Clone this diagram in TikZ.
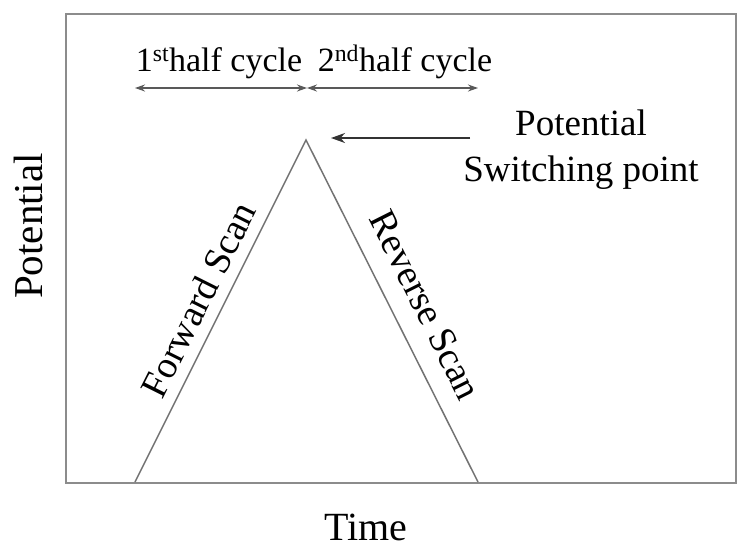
\documentclass[tikz,border=0pt]{standalone}
\usepackage{fontspec}
\setmainfont{Liberation Serif}
\usetikzlibrary{arrows.meta}
\begin{document}
\begin{tikzpicture}[x=1pt,y=-1pt,
  lbl/.style={inner sep=0pt, font=\fontsize{37}{44}\selectfont},
  hdr/.style={inner sep=0pt, font=\fontsize{34}{40}\selectfont},
  scanlbl/.style={inner sep=0pt, font=\fontsize{38}{44}\selectfont},
  frameline/.style={draw=black!45, line width=2pt},
  scanline/.style={draw=black!55, line width=1.5pt},
  dimarrow/.style={draw=black!65, line width=1.3pt, {Stealth[length=10pt,width=7pt]}-{Stealth[length=10pt,width=7pt]}},
  ptrarrow/.style={draw=black!80, line width=2pt, -{Stealth[length=14pt,width=10pt]}}]
\useasboundingbox (0,0) rectangle (743,550);
\fill[white] (0,0) rectangle (743,550);
% frame
\coordinate (fTL) at (66,14);
\coordinate (fBR) at (736,483);
\draw[frameline] (fTL) rectangle (fBR);
% triangle
\coordinate (L) at (135,482);
\coordinate (P) at (306,140);
\coordinate (R) at (478,482);
\draw[scanline] (L) -- node[scanlbl, sloped, above=11pt, pos=0.50] (fwd) {Forward Scan} (P)
  -- node[scanlbl, sloped, above=19pt, pos=0.525] (rev) {Reverse Scan} (R);
% half cycle arrows
\coordinate (a1) at (135,88);
\coordinate (am) at (307,88);
\coordinate (a2) at (478,88);
\draw[dimarrow] (a1) -- (am);
\draw[dimarrow] (am) -- (a2);
\node[hdr, anchor=base] (h1) at (219,71) {1\textsuperscript{st}half cycle};
\node[hdr, anchor=base] (h2) at (405,71) {2\textsuperscript{nd}half cycle};
% switching point
\node[lbl, anchor=base] (sw1) at (581,135) {Potential};
\node[lbl, anchor=base] (sw2) at (581,181) {Switching point};
\coordinate (pa) at (470,138);
\coordinate (pb) at (331,138);
\draw[ptrarrow] (pa) -- (pb);
% axis labels
\node[lbl, rotate=90, font=\fontsize{41}{44}\selectfont] (ylab) at (28,226) {Potential};
\node[lbl, font=\fontsize{40}{44}\selectfont] (xlab) at (366,527) {Time};
\end{tikzpicture}
\end{document}
